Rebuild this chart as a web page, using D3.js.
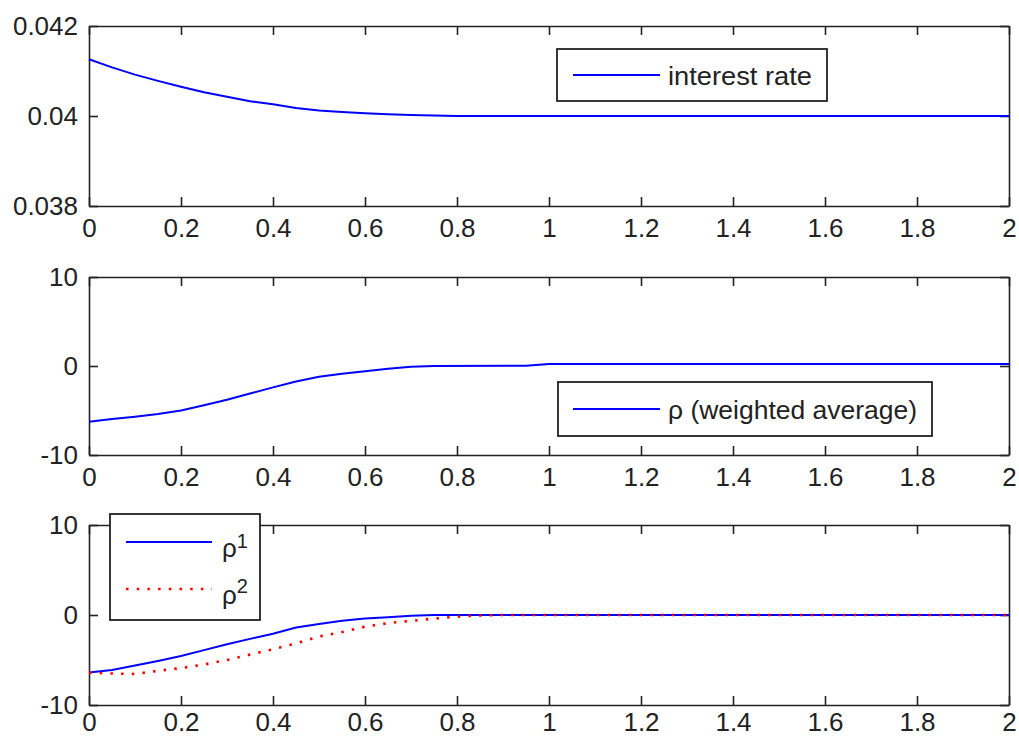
<!DOCTYPE html>
<html>
<head>
<meta charset="utf-8">
<script src="https://cdn.jsdelivr.net/npm/d3@7"></script>
<style>
  html, body { margin: 0; padding: 0; background: #fff; }
  svg { display: block; font-family: "Liberation Sans", Arial, Helvetica, sans-serif; }
</style>
</head>
<body>
<svg id="chart" width="1019" height="739"></svg>
<script>
// ---------- DATA ----------
const xTicks = [0, 0.2, 0.4, 0.6, 0.8, 1, 1.2, 1.4, 1.6, 1.8, 2];
const xTickLabels = ["0", "0.2", "0.4", "0.6", "0.8", "1", "1.2", "1.4", "1.6", "1.8", "2"];

const rateTicks = [0.038, 0.04, 0.042];
const rateTickLabels = ["0.038", "0.04", "0.042"];
const rhoTicks = [-10, 0, 10];
const rhoTickLabels = ["-10", "0", "10"];

// panel 1: interest rate
const rateT = [0, 0.05, 0.1, 0.15, 0.2, 0.25, 0.3, 0.35, 0.4, 0.45, 0.5, 0.55, 0.6, 0.65, 0.7, 0.75, 0.8, 1.0, 1.5, 2.0];
const rateV = [0.04126, 0.04108, 0.04092, 0.04078, 0.04065, 0.04053, 0.04043, 0.04033, 0.04026, 0.04018, 0.04012, 0.04009, 0.04006, 0.04004, 0.04002, 0.04001, 0.04, 0.04, 0.04, 0.04];

// panel 2: rho (weighted average)
const rhoAvgT = [0, 0.05, 0.1, 0.15, 0.2, 0.25, 0.3, 0.35, 0.4, 0.45, 0.5, 0.55, 0.6, 0.65, 0.7, 0.75, 0.95, 1.0, 2.0];
const rhoAvgV = [-6.26, -5.95, -5.7, -5.4, -5.0, -4.4, -3.8, -3.1, -2.4, -1.75, -1.22, -0.88, -0.6, -0.3, -0.08, 0, 0.02, 0.22, 0.22];

// panel 3: rho^1 and rho^2
const rho1T = [0, 0.05, 0.1, 0.15, 0.2, 0.25, 0.3, 0.35, 0.4, 0.45, 0.5, 0.55, 0.6, 0.65, 0.7, 0.75, 2.0];
const rho1V = [-6.4, -6.1, -5.6, -5.1, -4.55, -3.9, -3.26, -2.65, -2.08, -1.4, -1.0, -0.65, -0.4, -0.24, -0.08, 0, 0];
const rho2T = [0, 0.05, 0.1, 0.15, 0.2, 0.25, 0.3, 0.35, 0.4, 0.45, 0.5, 0.55, 0.6, 0.65, 0.7, 0.75, 0.8, 0.85, 0.9, 2.0];
const rho2V = [-6.4, -6.5, -6.55, -6.2, -5.9, -5.5, -5.0, -4.4, -3.8, -3.15, -2.4, -1.9, -1.3, -0.9, -0.65, -0.4, -0.18, -0.05, 0, 0];

// ---------- LAYOUT ----------
const svg = d3.select("#chart");
const L = 89, R = 1009;
const panels = [
  { top: 26, bottom: 206, domain: [0.038, 0.042], ticks: rateTicks, labels: rateTickLabels, pad: 13 },
  { top: 277, bottom: 455, domain: [-10, 10], ticks: rhoTicks, labels: rhoTickLabels, pad: 13 },
  { top: 525, bottom: 705, domain: [-10, 10], ticks: rhoTicks, labels: rhoTickLabels, pad: 8 }
];
const axisColor = "#222";
const tickFont = 26;

const x = d3.scaleLinear().domain([0, 2]).range([L, R]);

function drawPanel(p) {
  const y = d3.scaleLinear().domain(p.domain).range([p.bottom, p.top]);
  const g = svg.append("g");
  g.append("rect").attr("x", L).attr("y", p.top).attr("width", R - L).attr("height", p.bottom - p.top)
    .attr("fill", "#fff");
  const bottomAxis = d3.axisBottom(x).tickValues(xTicks).tickFormat((d, i) => xTickLabels[i])
    .tickSizeInner(-9).tickSizeOuter(0).tickPadding(p.pad);
  const topAxis = d3.axisTop(x).tickValues(xTicks).tickFormat("").tickSizeInner(-9).tickSizeOuter(0);
  const leftAxis = d3.axisLeft(y).tickValues(p.ticks).tickFormat((d, i) => p.labels[i])
    .tickSizeInner(-9).tickSizeOuter(0).tickPadding(11);
  const rightAxis = d3.axisRight(y).tickValues(p.ticks).tickFormat("").tickSizeInner(-9).tickSizeOuter(0);

  const axes = [
    g.append("g").attr("transform", `translate(0,${p.bottom})`).call(bottomAxis),
    g.append("g").attr("transform", `translate(0,${p.top})`).call(topAxis),
    g.append("g").attr("transform", `translate(${L},0)`).call(leftAxis),
    g.append("g").attr("transform", `translate(${R},0)`).call(rightAxis)
  ];
  axes.forEach(a => {
    a.select(".domain").attr("stroke", axisColor).attr("stroke-width", 1.6);
    a.selectAll(".tick line").attr("stroke", axisColor).attr("stroke-width", 1.6);
    a.selectAll(".tick text").attr("fill", axisColor).attr("font-size", tickFont)
      .attr("font-family", "'Liberation Sans', Arial, sans-serif");
  });
  return { g, y };
}

const lineStyle = (sel, color, dotted) => {
  sel.attr("fill", "none").attr("stroke", color).attr("stroke-width", dotted ? 2.6 : 2);
  if (dotted) sel.attr("stroke-dasharray", "2.5,8.2");
};

function drawSeries(g, y, T, V, color, dotted) {
  const data = T.map((t, i) => [t, V[i]]);
  const line = d3.line().x(d => x(d[0])).y(d => y(d[1]));
  g.append("path").datum(data).attr("d", line).call(lineStyle, color, dotted);
}

function legendBox(g, x0, y0, w, h) {
  g.append("rect").attr("x", x0).attr("y", y0).attr("width", w).attr("height", h)
    .attr("fill", "#fff").attr("stroke", axisColor).attr("stroke-width", 1.8);
}
function legendLine(g, x1, x2, yy, color, dotted) {
  g.append("line").attr("x1", x1).attr("x2", x2).attr("y1", yy).attr("y2", yy).call(lineStyle, color, dotted);
}

// panel 1
const p1 = drawPanel(panels[0]);
drawSeries(p1.g, p1.y, rateT, rateV, "#0000ff", false);
legendBox(p1.g, 557, 49, 270, 52);
legendLine(p1.g, 573, 660, 75, "#0000ff", false);
p1.g.append("text").attr("x", 668).attr("y", 85).attr("font-size", 25).attr("fill", axisColor)
  .attr("textLength", 144).attr("lengthAdjust", "spacingAndGlyphs").text("interest rate");

// panel 2
const p2 = drawPanel(panels[1]);
drawSeries(p2.g, p2.y, rhoAvgT, rhoAvgV, "#0000ff", false);
legendBox(p2.g, 558, 382, 374, 54);
legendLine(p2.g, 573, 660, 409, "#0000ff", false);
p2.g.append("text").attr("x", 668).attr("y", 419).attr("font-size", 25).attr("fill", axisColor)
  .attr("textLength", 249).attr("lengthAdjust", "spacingAndGlyphs").text("ρ (weighted average)");

// panel 3
const p3 = drawPanel(panels[2]);
drawSeries(p3.g, p3.y, rho1T, rho1V, "#0000ff", false);
drawSeries(p3.g, p3.y, rho2T, rho2V, "#ff0000", true);
legendBox(p3.g, 110, 514, 150, 106);
legendLine(p3.g, 126, 212, 542, "#0000ff", false);
legendLine(p3.g, 126, 212, 589, "#ff0000", true);
const t1 = p3.g.append("text").attr("x", 222).attr("y", 557).attr("font-size", 26).attr("fill", axisColor);
t1.append("tspan").text("ρ");
t1.append("tspan").attr("font-size", 20).attr("dy", -9).text("1");
const t2 = p3.g.append("text").attr("x", 222).attr("y", 604).attr("font-size", 26).attr("fill", axisColor);
t2.append("tspan").text("ρ");
t2.append("tspan").attr("font-size", 20).attr("dy", -11).text("2");
</script>
</body>
</html>
